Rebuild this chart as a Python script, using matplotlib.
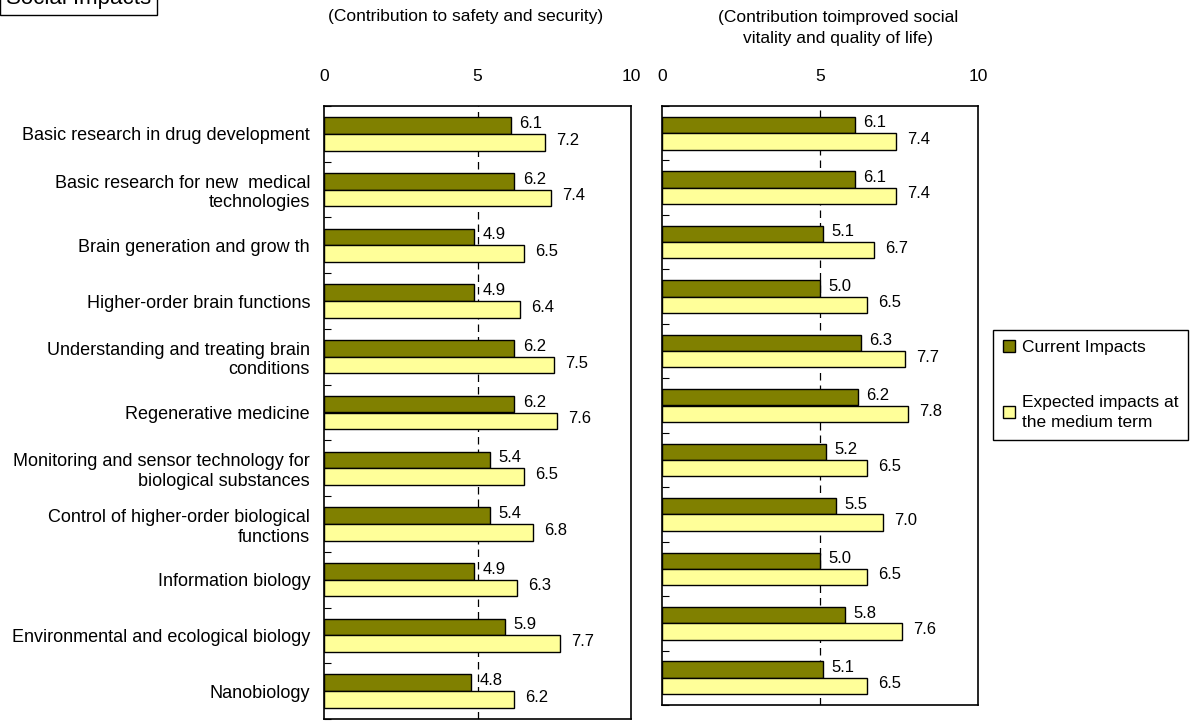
import numpy as np
import matplotlib.pyplot as plt
from matplotlib.patches import Patch

plt.rcParams['font.family'] = ['Liberation Sans', 'DejaVu Sans']

categories = ['Basic research in drug development',
              'Basic research for new  medical\ntechnologies',
              'Brain generation and grow th',
              'Higher-order brain functions',
              'Understanding and treating brain\nconditions',
              'Regenerative medicine',
              'Monitoring and sensor technology for\nbiological substances',
              'Control of higher-order biological\nfunctions',
              'Information biology',
              'Environmental and ecological biology',
              'Nanobiology']

safety_current = [6.1, 6.2, 4.9, 4.9, 6.2, 6.2, 5.4, 5.4, 4.9, 5.9, 4.8]
safety_expected = [7.2, 7.4, 6.5, 6.4, 7.5, 7.6, 6.5, 6.8, 6.3, 7.7, 6.2]
vitality_current = [6.1, 6.1, 5.1, 5.0, 6.3, 6.2, 5.2, 5.5, 5.0, 5.8, 5.1]
vitality_expected = [7.4, 7.4, 6.7, 6.5, 7.7, 7.8, 6.5, 7.0, 6.5, 7.6, 6.5]

titles = ['(Contribution to safety and security)',
          '(Contribution toimproved social\nvitality and quality of life)']

c_cur = '#808000'
c_exp = '#FFFF99'

W, H = 1195, 722
fig = plt.figure(figsize=(W / 100, H / 100), dpi=100)


def px(x0, y0, x1, y1):
    return [x0 / W, 1 - y1 / H, (x1 - x0) / W, (y1 - y0) / H]


ax1 = fig.add_axes(px(324, 106, 631, 719))
ax2 = fig.add_axes(px(662, 106, 978, 705))

n = len(categories)
y = np.arange(n)
h = 0.30

for ax, cur, exp in [(ax1, safety_current, safety_expected),
                     (ax2, vitality_current, vitality_expected)]:
    ax.barh(y - h / 2, cur, height=h, color=c_cur, edgecolor='black', linewidth=1)
    ax.barh(y + h / 2, exp, height=h, color=c_exp, edgecolor='black', linewidth=1)
    for i in range(n):
        ax.annotate(f'{cur[i]:.1f}', (cur[i], y[i] - h / 2), xytext=(6, 1.5),
                    textcoords='offset points', ha='left', va='center', fontsize=12)
        ax.annotate(f'{exp[i]:.1f}', (exp[i], y[i] + h / 2), xytext=(8, 1.5),
                    textcoords='offset points', ha='left', va='center', fontsize=12)
    ax.axvline(5, color='black', linestyle=(0, (6, 4)), linewidth=0.9, zorder=0)
    ax.set_xlim(0, 10)
    ax.set_ylim(n - 0.5, -0.5)
    ax.set_xticks([0, 5, 10])
    ax.tick_params(axis='x', top=True, labeltop=True, bottom=False, labelbottom=False,
                   length=0, pad=16, labelsize=12.5)
    ax.set_yticks(np.arange(n + 1) - 0.5)
    ax.set_yticklabels([])
    ax.tick_params(axis='y', direction='in', length=5, left=True, width=0.8)
    for s in ax.spines.values():
        s.set_linewidth(1.2)

ax1.set_yticks(y, minor=True)
ax1.set_yticklabels(categories, minor=True, fontsize=13)
ax1.tick_params(axis='y', which='minor', length=0, pad=10)

fig.text(466 / W, 1 - 16 / H, titles[0], ha='center', va='center', fontsize=12.5)
fig.text(838 / W, 1 - 28 / H, titles[1], ha='center', va='center', fontsize=12.5,
         linespacing=1.45)

fig.text(6 / W, 1 - 4 / H, 'Social Impacts', ha='left', va='baseline', fontsize=16,
         bbox=dict(boxstyle='square,pad=0.25', facecolor='white', edgecolor='black',
                   linewidth=1))

handles = [Patch(facecolor=c_cur, edgecolor='black'),
           Patch(facecolor=c_exp, edgecolor='black')]
leg = fig.legend(handles, ['Current Impacts', 'Expected impacts at\nthe medium term'],
                 loc='upper left', bbox_to_anchor=(993 / W, 1 - 330 / H), fontsize=12.5,
                 frameon=True, fancybox=False, edgecolor='black', framealpha=1,
                 handlelength=0.7, handleheight=0.7, handletextpad=0.4, labelspacing=2.3,
                 borderpad=0.55, borderaxespad=0)
leg.get_texts()[1].set_linespacing(1.45)

fig.savefig('out.png', dpi=100)
